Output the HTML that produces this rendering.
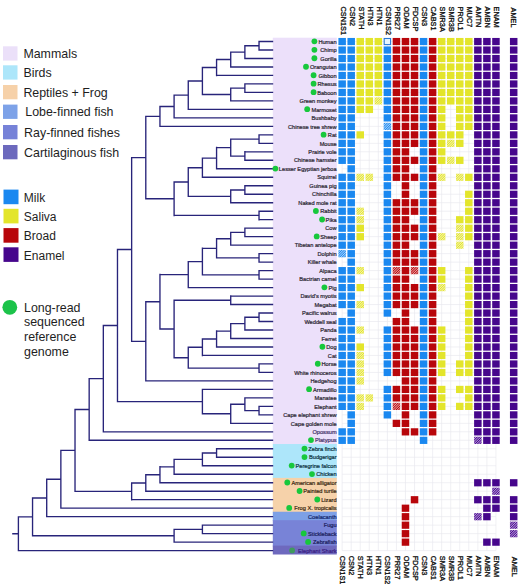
<!DOCTYPE html>
<html><head><meta charset="utf-8"><title>Figure</title><style>
html,body{margin:0;padding:0;background:#fff;width:520px;height:587px;overflow:hidden;}
svg{display:block;font-family:"Liberation Sans",sans-serif;}
.sp{font-size:5.65px;text-anchor:end;stroke-width:0.22px;}
.gl{font-size:7.35px;fill:#111;stroke:#111;stroke-width:0.3px;}
.lg{font-size:12.4px;fill:#1e1e1e;}
</style></head><body>
<svg width="520" height="587" viewBox="0 0 520 587">
<defs>
<pattern id="hB" patternUnits="userSpaceOnUse" width="1.7" height="1.7" patternTransform="rotate(45)"><rect width="1.7" height="1.7" fill="#a8d2fa"/><rect width="0.85" height="1.7" fill="#1a88f0"/></pattern>
<pattern id="hY" patternUnits="userSpaceOnUse" width="1.7" height="1.7" patternTransform="rotate(45)"><rect width="1.7" height="1.7" fill="#f4f3b0"/><rect width="0.85" height="1.7" fill="#e3e52b"/></pattern>
<pattern id="hR" patternUnits="userSpaceOnUse" width="1.7" height="1.7" patternTransform="rotate(45)"><rect width="1.7" height="1.7" fill="#e8a0a2"/><rect width="0.85" height="1.7" fill="#b8060b"/></pattern>
<pattern id="hP" patternUnits="userSpaceOnUse" width="1.7" height="1.7" patternTransform="rotate(45)"><rect width="1.7" height="1.7" fill="#b89ad8"/><rect width="0.85" height="1.7" fill="#46068c"/></pattern>
</defs>
<rect x="3" y="46.3" width="14.5" height="14.3" fill="#ebe0f9"/>
<text class="lg" x="23.4" y="58.1">Mammals</text>
<rect x="3" y="65.3" width="14.5" height="14.3" fill="#ade6fa"/>
<text class="lg" x="23.4" y="77.1">Birds</text>
<rect x="3" y="85" width="14.5" height="14.3" fill="#f6d1a9"/>
<text class="lg" x="23.4" y="96.8">Reptiles + Frog</text>
<rect x="3" y="104.6" width="14.5" height="14.3" fill="#7da2e8"/>
<text class="lg" x="25.3" y="116.4">Lobe-finned fish</text>
<rect x="3" y="125" width="14.5" height="14.3" fill="#7682d8"/>
<text class="lg" x="24.1" y="136.8">Ray-finned fishes</text>
<rect x="3" y="145" width="14.5" height="14.3" fill="#6c69bd"/>
<text class="lg" x="24.1" y="156.8">Cartilaginous fish</text>
<rect x="3.5" y="189.6" width="15" height="14.6" fill="#1a88f0"/>
<text class="lg" x="23.8" y="201.8" style="font-size:12px">Milk</text>
<rect x="3.5" y="208.8" width="15" height="14.6" fill="#e3e52b"/>
<text class="lg" x="23.8" y="221" style="font-size:12px">Saliva</text>
<rect x="3.5" y="228.1" width="15" height="14.6" fill="#b8060b"/>
<text class="lg" x="23.8" y="240.3" style="font-size:12px">Broad</text>
<rect x="3.5" y="247.3" width="15" height="14.6" fill="#46068c"/>
<text class="lg" x="23.8" y="259.5" style="font-size:12px">Enamel</text>
<circle cx="9.8" cy="307.3" r="7.4" fill="#1cc34a"/>
<text class="lg" x="24" y="311.6">Long-read</text>
<text class="lg" x="24" y="326.4">sequenced</text>
<text class="lg" x="24" y="341.2">reference</text>
<text class="lg" x="24" y="356">genome</text>
<rect x="272.8" y="37.7" width="64.0" height="407.12" fill="#ece0fa"/>
<rect x="272.8" y="444.02" width="64.0" height="34.66" fill="#ade6fa"/>
<rect x="272.8" y="477.88" width="64.0" height="34.66" fill="#f6d2aa"/>
<rect x="272.8" y="511.74" width="64.0" height="9.27" fill="#7da0e6"/>
<rect x="272.8" y="520.21" width="64.0" height="26.19" fill="#7883d7"/>
<rect x="272.8" y="545.6" width="64.0" height="8.9" fill="#6e69be"/>
<path d="M259.03 41.5H273.19M259.03 49.98H273.19M259.03 40.8V50.69M244.88 45.74H259.03M244.88 58.47H273.19M244.88 45.04V59.17M230.72 52.11H244.88M230.72 66.95H273.19M230.72 51.41V67.66M216.57 59.53H230.72M216.57 75.44H273.19M216.57 58.83V76.14M244.88 83.92H273.19M244.88 92.41H273.19M244.88 83.22V93.11M230.72 88.17H244.88M230.72 100.89H273.19M230.72 87.47V101.59M202.41 67.49H216.57M202.41 94.53H230.72M202.41 66.79V95.23M188.26 81.01H202.41M188.26 109.38H273.19M188.26 80.31V110.08M174.1 95.19H188.26M174.1 117.86H273.19M174.1 94.49V118.56M159.95 106.53H174.1M159.95 126.35H273.19M159.95 105.83V127.05M259.03 134.83H273.19M259.03 143.32H273.19M259.03 134.13V144.02M244.88 151.81H273.19M244.88 160.29H273.19M244.88 151.11V160.99M230.72 139.08H259.03M230.72 156.05H244.88M230.72 138.38V156.75M216.57 147.56H230.72M216.57 168.77H273.19M216.57 146.86V169.47M202.41 158.17H216.57M202.41 177.26H273.19M202.41 157.47V177.96M244.88 185.75H273.19M244.88 194.23H273.19M244.88 185.05V194.93M230.72 189.99H244.88M230.72 202.71H273.19M230.72 189.29V203.41M188.26 167.71H202.41M188.26 196.35H230.72M188.26 167.01V197.05M259.03 211.2H273.19M259.03 219.69H273.19M259.03 210.5V220.38M174.1 182.03H188.26M174.1 215.44H259.03M174.1 181.33V216.14M145.79 116.44H159.95M145.79 198.74H174.1M145.79 115.74V199.44M244.88 228.17H273.19M244.88 236.65H273.19M244.88 227.47V237.35M230.72 232.41H244.88M230.72 245.14H273.19M230.72 231.71V245.84M259.03 253.62H273.19M259.03 262.11H273.19M259.03 252.93V262.81M216.57 238.78H230.72M216.57 257.87H259.03M216.57 238.08V258.57M259.03 270.59H273.19M259.03 279.08H273.19M259.03 269.89V279.78M202.41 248.32H216.57M202.41 274.84H259.03M202.41 247.62V275.54M188.26 261.58H202.41M188.26 287.56H273.19M188.26 260.88V288.26M230.72 296.05H273.19M230.72 304.53H273.19M230.72 295.35V305.23M259.03 313.02H273.19M259.03 321.5H273.19M259.03 312.32V322.2M244.88 317.26H259.03M244.88 329.99H273.19M244.88 316.56V330.69M230.72 323.63H244.88M230.72 338.47H273.19M230.72 322.93V339.17M216.57 331.05H230.72M216.57 346.96H273.19M216.57 330.35V347.66M202.41 339.01H216.57M202.41 355.44H273.19M202.41 338.31V356.14M259.03 363.93H273.19M259.03 372.41H273.19M259.03 363.23V373.11M188.26 347.23H202.41M188.26 368.17H259.03M188.26 346.53V368.87M174.1 300.29H230.72M174.1 357.7H188.26M174.1 299.59V358.4M159.95 274.57H188.26M159.95 329H174.1M159.95 273.87V329.7M145.79 301.78H159.95M145.79 380.9H273.19M145.79 301.08V381.6M131.64 157.59H145.79M131.64 341.34H145.79M131.64 156.89V342.04M259.03 406.35H273.19M259.03 414.84H273.19M259.03 405.65V415.54M244.88 397.87H273.19M244.88 410.6H259.03M244.88 397.17V411.3M230.72 404.23H244.88M230.72 423.32H273.19M230.72 403.53V424.02M202.41 389.38H273.19M202.41 413.78H230.72M202.41 388.69V414.48M117.48 249.47H131.64M117.48 401.58H202.41M117.48 248.77V402.28M103.33 325.52H117.48M103.33 431.81H273.19M103.33 324.82V432.51M89.17 378.67H103.33M89.17 440.29H273.19M89.17 377.97V440.99M216.57 448.78H273.19M216.57 457.26H273.19M216.57 448.08V457.96M202.41 453.02H216.57M202.41 465.75H273.19M202.41 452.32V466.45M174.1 459.39H202.41M174.1 474.23H273.19M174.1 458.69V474.93M159.95 466.81H174.1M159.95 482.72H273.19M159.95 466.11V483.42M145.79 474.77H159.95M145.79 491.2H273.19M145.79 474.07V491.9M131.64 482.99H145.79M131.64 499.69H273.19M131.64 482.29V500.39M75.02 409.48H89.17M75.02 491.34H131.64M75.02 408.78V492.04M60.86 450.41H75.02M60.86 508.17H273.19M60.86 449.71V508.87M46.71 479.29H60.86M46.71 516.66H273.19M46.71 478.59V517.36M202.41 525.14H273.19M202.41 533.63H273.19M202.41 524.44V534.33M174.1 529.39H202.41M174.1 542.12H273.19M174.1 528.69V542.82M32.55 497.98H46.71M32.55 535.75H174.1M32.55 497.28V536.45M18.4 516.86H32.55M18.4 550.6H273.19M18.4 516.16V551.3M12.2 533.73H18.4" fill="none" stroke="#28247a" stroke-width="1.35" stroke-linecap="butt"/>
<text class="sp" transform="translate(336.6,43.7) scale(1,1.08)" fill="#2c2834" stroke="#2c2834">Human</text>
<circle cx="314.4" cy="41.3" r="2.9" fill="#17c83c"/>
<text class="sp" transform="translate(336.6,52.19) scale(1,1.08)" fill="#2c2834" stroke="#2c2834">Chimp</text>
<circle cx="314.4" cy="49.78" r="2.9" fill="#17c83c"/>
<text class="sp" transform="translate(336.6,60.67) scale(1,1.08)" fill="#2c2834" stroke="#2c2834">Gorilla</text>
<circle cx="314.4" cy="58.27" r="2.9" fill="#17c83c"/>
<text class="sp" transform="translate(336.6,69.16) scale(1,1.08)" fill="#2c2834" stroke="#2c2834">Orangutan</text>
<circle cx="306" cy="66.75" r="2.9" fill="#17c83c"/>
<text class="sp" transform="translate(336.6,77.64) scale(1,1.08)" fill="#2c2834" stroke="#2c2834">Gibbon</text>
<circle cx="313.6" cy="75.24" r="2.9" fill="#17c83c"/>
<text class="sp" transform="translate(336.6,86.12) scale(1,1.08)" fill="#2c2834" stroke="#2c2834">Rhesus</text>
<circle cx="313.6" cy="83.72" r="2.9" fill="#17c83c"/>
<text class="sp" transform="translate(336.6,94.61) scale(1,1.08)" fill="#2c2834" stroke="#2c2834">Baboon</text>
<circle cx="313.6" cy="92.21" r="2.9" fill="#17c83c"/>
<text class="sp" transform="translate(336.6,103.09) scale(1,1.08)" fill="#2c2834" stroke="#2c2834">Green monkey</text>
<text class="sp" transform="translate(336.6,111.58) scale(1,1.08)" fill="#2c2834" stroke="#2c2834">Marmoset</text>
<circle cx="307.2" cy="109.18" r="2.9" fill="#17c83c"/>
<text class="sp" transform="translate(336.6,120.06) scale(1,1.08)" fill="#2c2834" stroke="#2c2834">Bushbaby</text>
<text class="sp" transform="translate(336.6,128.55) scale(1,1.08)" fill="#2c2834" stroke="#2c2834">Chinese tree shrew</text>
<text class="sp" transform="translate(336.6,137.03) scale(1,1.08)" fill="#2c2834" stroke="#2c2834">Rat</text>
<circle cx="323.6" cy="134.63" r="2.9" fill="#17c83c"/>
<text class="sp" transform="translate(336.6,145.52) scale(1,1.08)" fill="#2c2834" stroke="#2c2834">Mouse</text>
<text class="sp" transform="translate(336.6,154) scale(1,1.08)" fill="#2c2834" stroke="#2c2834">Prairie vole</text>
<text class="sp" transform="translate(336.6,162.49) scale(1,1.08)" fill="#2c2834" stroke="#2c2834">Chinese hamster</text>
<text class="sp" transform="translate(336.6,170.97) scale(1,1.08)" fill="#2c2834" stroke="#2c2834">Lesser Egyptian jerboa</text>
<circle cx="275.4" cy="168.57" r="2.9" fill="#17c83c"/>
<text class="sp" transform="translate(336.6,179.46) scale(1,1.08)" fill="#2c2834" stroke="#2c2834">Squirrel</text>
<text class="sp" transform="translate(336.6,187.94) scale(1,1.08)" fill="#2c2834" stroke="#2c2834">Guinea pig</text>
<text class="sp" transform="translate(336.6,196.43) scale(1,1.08)" fill="#2c2834" stroke="#2c2834">Chinchilla</text>
<text class="sp" transform="translate(336.6,204.91) scale(1,1.08)" fill="#2c2834" stroke="#2c2834">Naked mole rat</text>
<text class="sp" transform="translate(336.6,213.4) scale(1,1.08)" fill="#2c2834" stroke="#2c2834">Rabbit</text>
<circle cx="315.9" cy="211" r="2.9" fill="#17c83c"/>
<text class="sp" transform="translate(336.6,221.88) scale(1,1.08)" fill="#2c2834" stroke="#2c2834">Pika</text>
<circle cx="322.1" cy="219.49" r="2.9" fill="#17c83c"/>
<text class="sp" transform="translate(336.6,230.37) scale(1,1.08)" fill="#2c2834" stroke="#2c2834">Cow</text>
<text class="sp" transform="translate(336.6,238.85) scale(1,1.08)" fill="#2c2834" stroke="#2c2834">Sheep</text>
<circle cx="316.7" cy="236.45" r="2.9" fill="#17c83c"/>
<text class="sp" transform="translate(336.6,247.34) scale(1,1.08)" fill="#2c2834" stroke="#2c2834">Tibetan antelope</text>
<text class="sp" transform="translate(336.6,255.82) scale(1,1.08)" fill="#2c2834" stroke="#2c2834">Dolphin</text>
<text class="sp" transform="translate(336.6,264.31) scale(1,1.08)" fill="#2c2834" stroke="#2c2834">Killer whale</text>
<text class="sp" transform="translate(336.6,272.79) scale(1,1.08)" fill="#2c2834" stroke="#2c2834">Alpaca</text>
<text class="sp" transform="translate(336.6,281.28) scale(1,1.08)" fill="#2c2834" stroke="#2c2834">Bactrian camel</text>
<text class="sp" transform="translate(336.6,289.76) scale(1,1.08)" fill="#2c2834" stroke="#2c2834">Pig</text>
<circle cx="324.4" cy="287.37" r="2.9" fill="#17c83c"/>
<text class="sp" transform="translate(336.6,298.25) scale(1,1.08)" fill="#2c2834" stroke="#2c2834">David&#39;s myotis</text>
<text class="sp" transform="translate(336.6,306.73) scale(1,1.08)" fill="#2c2834" stroke="#2c2834">Megabat</text>
<text class="sp" transform="translate(336.6,315.22) scale(1,1.08)" fill="#2c2834" stroke="#2c2834">Pacific walrus</text>
<text class="sp" transform="translate(336.6,323.7) scale(1,1.08)" fill="#2c2834" stroke="#2c2834">Weddell seal</text>
<text class="sp" transform="translate(336.6,332.19) scale(1,1.08)" fill="#2c2834" stroke="#2c2834">Panda</text>
<text class="sp" transform="translate(336.6,340.67) scale(1,1.08)" fill="#2c2834" stroke="#2c2834">Ferret</text>
<text class="sp" transform="translate(336.6,349.16) scale(1,1.08)" fill="#2c2834" stroke="#2c2834">Dog</text>
<circle cx="322.4" cy="346.76" r="2.9" fill="#17c83c"/>
<text class="sp" transform="translate(336.6,357.64) scale(1,1.08)" fill="#2c2834" stroke="#2c2834">Cat</text>
<text class="sp" transform="translate(336.6,366.13) scale(1,1.08)" fill="#2c2834" stroke="#2c2834">Horse</text>
<circle cx="317.8" cy="363.73" r="2.9" fill="#17c83c"/>
<text class="sp" transform="translate(336.6,374.61) scale(1,1.08)" fill="#2c2834" stroke="#2c2834">White rhinoceros</text>
<text class="sp" transform="translate(336.6,383.1) scale(1,1.08)" fill="#2c2834" stroke="#2c2834">Hedgehog</text>
<text class="sp" transform="translate(336.6,391.58) scale(1,1.08)" fill="#2c2834" stroke="#2c2834">Armadillo</text>
<circle cx="309.1" cy="389.19" r="2.9" fill="#17c83c"/>
<text class="sp" transform="translate(336.6,400.07) scale(1,1.08)" fill="#2c2834" stroke="#2c2834">Manatee</text>
<text class="sp" transform="translate(336.6,408.55) scale(1,1.08)" fill="#2c2834" stroke="#2c2834">Elephant</text>
<text class="sp" transform="translate(336.6,417.04) scale(1,1.08)" fill="#2c2834" stroke="#2c2834">Cape elephant shrew</text>
<text class="sp" transform="translate(336.6,425.52) scale(1,1.08)" fill="#2c2834" stroke="#2c2834">Cape golden mole</text>
<text class="sp" transform="translate(336.6,434.01) scale(1,1.08)" fill="#47346a" stroke="#47346a">Opossum</text>
<text class="sp" transform="translate(336.6,442.49) scale(1,1.08)" fill="#47346a" stroke="#47346a">Platypus</text>
<circle cx="311" cy="440.09" r="2.9" fill="#17c83c"/>
<text class="sp" transform="translate(336.6,450.98) scale(1,1.08)" fill="#0f3545" stroke="#0f3545">Zebra finch</text>
<circle cx="304.5" cy="448.58" r="2.9" fill="#17c83c"/>
<text class="sp" transform="translate(336.6,459.46) scale(1,1.08)" fill="#0f3545" stroke="#0f3545">Budgerigar</text>
<circle cx="304.5" cy="457.06" r="2.9" fill="#17c83c"/>
<text class="sp" transform="translate(336.6,467.95) scale(1,1.08)" fill="#0f3545" stroke="#0f3545">Peregrine falcon</text>
<circle cx="291.7" cy="465.55" r="2.9" fill="#17c83c"/>
<text class="sp" transform="translate(336.6,476.43) scale(1,1.08)" fill="#0f3545" stroke="#0f3545">Chicken</text>
<circle cx="312" cy="474.03" r="2.9" fill="#17c83c"/>
<text class="sp" transform="translate(336.6,484.92) scale(1,1.08)" fill="#3d2b14" stroke="#3d2b14">American alligator</text>
<circle cx="287.3" cy="482.52" r="2.9" fill="#17c83c"/>
<text class="sp" transform="translate(336.6,493.4) scale(1,1.08)" fill="#3d2b14" stroke="#3d2b14">Painted turtle</text>
<circle cx="299.6" cy="491" r="2.9" fill="#17c83c"/>
<text class="sp" transform="translate(336.6,501.89) scale(1,1.08)" fill="#3d2b14" stroke="#3d2b14">Lizard</text>
<circle cx="317.3" cy="499.49" r="2.9" fill="#17c83c"/>
<text class="sp" transform="translate(336.6,510.37) scale(1,1.08)" fill="#3d2b14" stroke="#3d2b14">Frog X. tropicalis</text>
<circle cx="289.2" cy="507.97" r="2.9" fill="#17c83c"/>
<text class="sp" transform="translate(336.6,518.86) scale(1,1.08)" fill="#14286e" stroke="#14286e">Coelacanth</text>
<text class="sp" transform="translate(336.6,527.35) scale(1,1.08)" fill="#1c1f5e" stroke="#1c1f5e">Fugu</text>
<text class="sp" transform="translate(336.6,535.83) scale(1,1.08)" fill="#1c1f5e" stroke="#1c1f5e">Stickleback</text>
<circle cx="303.7" cy="533.43" r="2.9" fill="#17c83c"/>
<text class="sp" transform="translate(336.6,544.32) scale(1,1.08)" fill="#1c1f5e" stroke="#1c1f5e">Zebrafish</text>
<circle cx="308.1" cy="541.91" r="2.9" fill="#17c83c"/>
<text class="sp" transform="translate(336.6,552.8) scale(1,1.08)" fill="#3a2084" stroke="#3a2084">Elephant Shark</text>
<circle cx="292.1" cy="550.4" r="2.9" fill="#3f9a5e"/>
<path d="M342.15 41.5H495.95M342.15 49.98H495.95M342.15 58.47H495.95M342.15 66.95H495.95M342.15 75.44H495.95M342.15 83.92H495.95M342.15 92.41H495.95M342.15 100.89H495.95M342.15 109.38H495.95M342.15 117.86H495.95M342.15 126.35H495.95M342.15 134.83H495.95M342.15 143.32H495.95M342.15 151.81H495.95M342.15 160.29H495.95M342.15 168.77H495.95M342.15 177.26H495.95M342.15 185.75H495.95M342.15 194.23H495.95M342.15 202.71H495.95M342.15 211.2H495.95M342.15 219.69H495.95M342.15 228.17H495.95M342.15 236.65H495.95M342.15 245.14H495.95M342.15 253.62H495.95M342.15 262.11H495.95M342.15 270.59H495.95M342.15 279.08H495.95M342.15 287.56H495.95M342.15 296.05H495.95M342.15 304.53H495.95M342.15 313.02H495.95M342.15 321.5H495.95M342.15 329.99H495.95M342.15 338.47H495.95M342.15 346.96H495.95M342.15 355.44H495.95M342.15 363.93H495.95M342.15 372.41H495.95M342.15 380.9H495.95M342.15 389.38H495.95M342.15 397.87H495.95M342.15 406.35H495.95M342.15 414.84H495.95M342.15 423.32H495.95M342.15 431.81H495.95M342.15 440.29H495.95M342.15 448.78H495.95M342.15 457.26H495.95M342.15 465.75H495.95M342.15 474.23H495.95M342.15 482.72H495.95M342.15 491.2H495.95M342.15 499.69H495.95M342.15 508.17H495.95M342.15 516.66H495.95M342.15 525.14H495.95M342.15 533.63H495.95M342.15 542.12H495.95M342.15 550.6H495.95M342.15 41.5V550.6M351.2 41.5V550.6M360.24 41.5V550.6M369.29 41.5V550.6M378.34 41.5V550.6M387.38 41.5V550.6M396.43 41.5V550.6M405.48 41.5V550.6M414.53 41.5V550.6M423.57 41.5V550.6M432.62 41.5V550.6M441.67 41.5V550.6M450.71 41.5V550.6M459.76 41.5V550.6M468.81 41.5V550.6M477.86 41.5V550.6M486.9 41.5V550.6M495.95 41.5V550.6" stroke="#e8e8ee" stroke-width="0.65" fill="none"/>
<rect x="338.4" y="37.95" width="7.5" height="7.2" fill="#1a88f0"/>
<rect x="347.45" y="37.95" width="7.5" height="7.2" fill="#1a88f0"/>
<rect x="356.49" y="37.95" width="7.5" height="7.2" fill="#e3e52b"/>
<rect x="365.54" y="37.95" width="7.5" height="7.2" fill="#e3e52b"/>
<rect x="374.59" y="37.95" width="7.5" height="7.2" fill="#e3e52b"/>
<rect x="384.19" y="38.5" width="6.4" height="6.1" fill="#e6f6ff" stroke="#2a7ad6" stroke-width="1.1"/>
<rect x="392.68" y="37.95" width="7.5" height="7.2" fill="#b8060b"/>
<rect x="401.73" y="37.95" width="7.5" height="7.2" fill="#b8060b"/>
<rect x="410.78" y="37.95" width="7.5" height="7.2" fill="#b8060b"/>
<rect x="419.82" y="37.95" width="7.5" height="7.2" fill="#1a88f0"/>
<rect x="428.87" y="37.95" width="7.5" height="7.2" fill="#b8060b"/>
<rect x="437.92" y="37.95" width="7.5" height="7.2" fill="#e3e52b"/>
<rect x="446.96" y="37.95" width="7.5" height="7.2" fill="#e3e52b"/>
<rect x="456.01" y="37.95" width="7.5" height="7.2" fill="#e3e52b"/>
<rect x="465.06" y="37.95" width="7.5" height="7.2" fill="#e3e52b"/>
<rect x="474.11" y="37.95" width="7.5" height="7.2" fill="#46068c"/>
<rect x="483.15" y="37.95" width="7.5" height="7.2" fill="#46068c"/>
<rect x="492.2" y="37.95" width="7.5" height="7.2" fill="#46068c"/>
<rect x="509.95" y="37.95" width="7.5" height="7.2" fill="#46068c"/>
<rect x="338.4" y="46.43" width="7.5" height="7.2" fill="#1a88f0"/>
<rect x="347.45" y="46.43" width="7.5" height="7.2" fill="#1a88f0"/>
<rect x="356.49" y="46.43" width="7.5" height="7.2" fill="#e3e52b"/>
<rect x="365.54" y="46.43" width="7.5" height="7.2" fill="#e3e52b"/>
<rect x="374.59" y="46.43" width="7.5" height="7.2" fill="#e3e52b"/>
<rect x="383.63" y="46.43" width="7.5" height="7.2" fill="#1a88f0"/>
<rect x="392.68" y="46.43" width="7.5" height="7.2" fill="#b8060b"/>
<rect x="401.73" y="46.43" width="7.5" height="7.2" fill="#b8060b"/>
<rect x="410.78" y="46.43" width="7.5" height="7.2" fill="#b8060b"/>
<rect x="419.82" y="46.43" width="7.5" height="7.2" fill="#1a88f0"/>
<rect x="428.87" y="46.43" width="7.5" height="7.2" fill="#b8060b"/>
<rect x="437.92" y="46.43" width="7.5" height="7.2" fill="#e3e52b"/>
<rect x="446.96" y="46.43" width="7.5" height="7.2" fill="#e3e52b"/>
<rect x="456.01" y="46.43" width="7.5" height="7.2" fill="#e3e52b"/>
<rect x="465.06" y="46.43" width="7.5" height="7.2" fill="#e3e52b"/>
<rect x="474.11" y="46.43" width="7.5" height="7.2" fill="#46068c"/>
<rect x="483.15" y="46.43" width="7.5" height="7.2" fill="#46068c"/>
<rect x="492.2" y="46.43" width="7.5" height="7.2" fill="#46068c"/>
<rect x="509.95" y="46.43" width="7.5" height="7.2" fill="#46068c"/>
<rect x="338.4" y="54.92" width="7.5" height="7.2" fill="#1a88f0"/>
<rect x="347.45" y="54.92" width="7.5" height="7.2" fill="#1a88f0"/>
<rect x="356.49" y="54.92" width="7.5" height="7.2" fill="#e3e52b"/>
<rect x="365.54" y="54.92" width="7.5" height="7.2" fill="#e3e52b"/>
<rect x="374.59" y="54.92" width="7.5" height="7.2" fill="#e3e52b"/>
<rect x="383.63" y="54.92" width="7.5" height="7.2" fill="#1a88f0"/>
<rect x="392.68" y="54.92" width="7.5" height="7.2" fill="#b8060b"/>
<rect x="401.73" y="54.92" width="7.5" height="7.2" fill="#b8060b"/>
<rect x="410.78" y="54.92" width="7.5" height="7.2" fill="#b8060b"/>
<rect x="419.82" y="54.92" width="7.5" height="7.2" fill="#1a88f0"/>
<rect x="428.87" y="54.92" width="7.5" height="7.2" fill="#b8060b"/>
<rect x="437.92" y="54.92" width="7.5" height="7.2" fill="#e3e52b"/>
<rect x="446.96" y="54.92" width="7.5" height="7.2" fill="#e3e52b"/>
<rect x="456.01" y="54.92" width="7.5" height="7.2" fill="#e3e52b"/>
<rect x="465.06" y="54.92" width="7.5" height="7.2" fill="#e3e52b"/>
<rect x="474.11" y="54.92" width="7.5" height="7.2" fill="#46068c"/>
<rect x="483.15" y="54.92" width="7.5" height="7.2" fill="#46068c"/>
<rect x="492.2" y="54.92" width="7.5" height="7.2" fill="#46068c"/>
<rect x="509.95" y="54.92" width="7.5" height="7.2" fill="#46068c"/>
<rect x="338.4" y="63.4" width="7.5" height="7.2" fill="#1a88f0"/>
<rect x="347.45" y="63.4" width="7.5" height="7.2" fill="#1a88f0"/>
<rect x="356.49" y="63.4" width="7.5" height="7.2" fill="#e3e52b"/>
<rect x="365.54" y="63.4" width="7.5" height="7.2" fill="#e3e52b"/>
<rect x="374.59" y="63.4" width="7.5" height="7.2" fill="#e3e52b"/>
<rect x="383.63" y="63.4" width="7.5" height="7.2" fill="#1a88f0"/>
<rect x="392.68" y="63.4" width="7.5" height="7.2" fill="#b8060b"/>
<rect x="401.73" y="63.4" width="7.5" height="7.2" fill="#b8060b"/>
<rect x="410.78" y="63.4" width="7.5" height="7.2" fill="#b8060b"/>
<rect x="419.82" y="63.4" width="7.5" height="7.2" fill="#1a88f0"/>
<rect x="428.87" y="63.4" width="7.5" height="7.2" fill="#b8060b"/>
<rect x="437.92" y="63.4" width="7.5" height="7.2" fill="#e3e52b"/>
<rect x="446.96" y="63.4" width="7.5" height="7.2" fill="#e3e52b"/>
<rect x="456.01" y="63.4" width="7.5" height="7.2" fill="#e3e52b"/>
<rect x="465.06" y="63.4" width="7.5" height="7.2" fill="#e3e52b"/>
<rect x="474.11" y="63.4" width="7.5" height="7.2" fill="#46068c"/>
<rect x="483.15" y="63.4" width="7.5" height="7.2" fill="#46068c"/>
<rect x="492.2" y="63.4" width="7.5" height="7.2" fill="#46068c"/>
<rect x="509.95" y="63.4" width="7.5" height="7.2" fill="#46068c"/>
<rect x="338.4" y="71.89" width="7.5" height="7.2" fill="#1a88f0"/>
<rect x="347.45" y="71.89" width="7.5" height="7.2" fill="#1a88f0"/>
<rect x="356.49" y="71.89" width="7.5" height="7.2" fill="#e3e52b"/>
<rect x="365.54" y="71.89" width="7.5" height="7.2" fill="#e3e52b"/>
<rect x="374.59" y="71.89" width="7.5" height="7.2" fill="#e3e52b"/>
<rect x="383.63" y="71.89" width="7.5" height="7.2" fill="#1a88f0"/>
<rect x="392.68" y="71.89" width="7.5" height="7.2" fill="#b8060b"/>
<rect x="401.73" y="71.89" width="7.5" height="7.2" fill="#b8060b"/>
<rect x="410.78" y="71.89" width="7.5" height="7.2" fill="#b8060b"/>
<rect x="419.82" y="71.89" width="7.5" height="7.2" fill="#1a88f0"/>
<rect x="428.87" y="71.89" width="7.5" height="7.2" fill="#b8060b"/>
<rect x="437.92" y="71.89" width="7.5" height="7.2" fill="#e3e52b"/>
<rect x="446.96" y="71.89" width="7.5" height="7.2" fill="#e3e52b"/>
<rect x="456.01" y="71.89" width="7.5" height="7.2" fill="#e3e52b"/>
<rect x="465.06" y="71.89" width="7.5" height="7.2" fill="#e3e52b"/>
<rect x="474.11" y="71.89" width="7.5" height="7.2" fill="#46068c"/>
<rect x="483.15" y="71.89" width="7.5" height="7.2" fill="#46068c"/>
<rect x="492.2" y="71.89" width="7.5" height="7.2" fill="#46068c"/>
<rect x="509.95" y="71.89" width="7.5" height="7.2" fill="#46068c"/>
<rect x="338.4" y="80.37" width="7.5" height="7.2" fill="#1a88f0"/>
<rect x="347.45" y="80.37" width="7.5" height="7.2" fill="#1a88f0"/>
<rect x="356.49" y="80.37" width="7.5" height="7.2" fill="#e3e52b"/>
<rect x="365.54" y="80.37" width="7.5" height="7.2" fill="#e3e52b"/>
<rect x="374.59" y="80.37" width="7.5" height="7.2" fill="#e3e52b"/>
<rect x="383.63" y="80.37" width="7.5" height="7.2" fill="#1a88f0"/>
<rect x="392.68" y="80.37" width="7.5" height="7.2" fill="#b8060b"/>
<rect x="401.73" y="80.37" width="7.5" height="7.2" fill="#b8060b"/>
<rect x="410.78" y="80.37" width="7.5" height="7.2" fill="#b8060b"/>
<rect x="419.82" y="80.37" width="7.5" height="7.2" fill="#1a88f0"/>
<rect x="428.87" y="80.37" width="7.5" height="7.2" fill="#b8060b"/>
<rect x="437.92" y="80.37" width="7.5" height="7.2" fill="#e3e52b"/>
<rect x="446.96" y="80.37" width="7.5" height="7.2" fill="#e3e52b"/>
<rect x="456.01" y="80.37" width="7.5" height="7.2" fill="#e3e52b"/>
<rect x="465.06" y="80.37" width="7.5" height="7.2" fill="#e3e52b"/>
<rect x="474.11" y="80.37" width="7.5" height="7.2" fill="#46068c"/>
<rect x="483.15" y="80.37" width="7.5" height="7.2" fill="#46068c"/>
<rect x="492.2" y="80.37" width="7.5" height="7.2" fill="#46068c"/>
<rect x="509.95" y="80.37" width="7.5" height="7.2" fill="#46068c"/>
<rect x="338.4" y="88.86" width="7.5" height="7.2" fill="#1a88f0"/>
<rect x="347.45" y="88.86" width="7.5" height="7.2" fill="#1a88f0"/>
<rect x="356.49" y="88.86" width="7.5" height="7.2" fill="#e3e52b"/>
<rect x="365.54" y="88.86" width="7.5" height="7.2" fill="#e3e52b"/>
<rect x="374.59" y="88.86" width="7.5" height="7.2" fill="#e3e52b"/>
<rect x="383.63" y="88.86" width="7.5" height="7.2" fill="#1a88f0"/>
<rect x="392.68" y="88.86" width="7.5" height="7.2" fill="#b8060b"/>
<rect x="401.73" y="88.86" width="7.5" height="7.2" fill="#b8060b"/>
<rect x="410.78" y="88.86" width="7.5" height="7.2" fill="#b8060b"/>
<rect x="419.82" y="88.86" width="7.5" height="7.2" fill="#1a88f0"/>
<rect x="428.87" y="88.86" width="7.5" height="7.2" fill="#b8060b"/>
<rect x="437.92" y="88.86" width="7.5" height="7.2" fill="#e3e52b"/>
<rect x="446.96" y="88.86" width="7.5" height="7.2" fill="#e3e52b"/>
<rect x="456.01" y="88.86" width="7.5" height="7.2" fill="#e3e52b"/>
<rect x="465.06" y="88.86" width="7.5" height="7.2" fill="#e3e52b"/>
<rect x="474.11" y="88.86" width="7.5" height="7.2" fill="#46068c"/>
<rect x="483.15" y="88.86" width="7.5" height="7.2" fill="#46068c"/>
<rect x="492.2" y="88.86" width="7.5" height="7.2" fill="#46068c"/>
<rect x="509.95" y="88.86" width="7.5" height="7.2" fill="#46068c"/>
<rect x="338.4" y="97.34" width="7.5" height="7.2" fill="#1a88f0"/>
<rect x="347.45" y="97.34" width="7.5" height="7.2" fill="#1a88f0"/>
<rect x="356.49" y="97.34" width="7.5" height="7.2" fill="#e3e52b"/>
<rect x="365.54" y="97.34" width="7.5" height="7.2" fill="#e3e52b"/>
<rect x="374.59" y="97.34" width="7.5" height="7.2" fill="url(#hY)"/>
<rect x="383.63" y="97.34" width="7.5" height="7.2" fill="#1a88f0"/>
<rect x="392.68" y="97.34" width="7.5" height="7.2" fill="#b8060b"/>
<rect x="401.73" y="97.34" width="7.5" height="7.2" fill="#b8060b"/>
<rect x="410.78" y="97.34" width="7.5" height="7.2" fill="#b8060b"/>
<rect x="419.82" y="97.34" width="7.5" height="7.2" fill="#1a88f0"/>
<rect x="428.87" y="97.34" width="7.5" height="7.2" fill="#b8060b"/>
<rect x="437.92" y="97.34" width="7.5" height="7.2" fill="#e3e52b"/>
<rect x="446.96" y="97.34" width="7.5" height="7.2" fill="#e3e52b"/>
<rect x="456.01" y="97.34" width="7.5" height="7.2" fill="#e3e52b"/>
<rect x="465.06" y="97.34" width="7.5" height="7.2" fill="#e3e52b"/>
<rect x="474.11" y="97.34" width="7.5" height="7.2" fill="#46068c"/>
<rect x="483.15" y="97.34" width="7.5" height="7.2" fill="#46068c"/>
<rect x="492.2" y="97.34" width="7.5" height="7.2" fill="#46068c"/>
<rect x="509.95" y="97.34" width="7.5" height="7.2" fill="#46068c"/>
<rect x="338.4" y="105.83" width="7.5" height="7.2" fill="#1a88f0"/>
<rect x="347.45" y="105.83" width="7.5" height="7.2" fill="#1a88f0"/>
<rect x="356.49" y="105.83" width="7.5" height="7.2" fill="#e3e52b"/>
<rect x="365.54" y="105.83" width="7.5" height="7.2" fill="#e3e52b"/>
<rect x="383.63" y="105.83" width="7.5" height="7.2" fill="#1a88f0"/>
<rect x="392.68" y="105.83" width="7.5" height="7.2" fill="#b8060b"/>
<rect x="401.73" y="105.83" width="7.5" height="7.2" fill="#b8060b"/>
<rect x="410.78" y="105.83" width="7.5" height="7.2" fill="#b8060b"/>
<rect x="419.82" y="105.83" width="7.5" height="7.2" fill="#1a88f0"/>
<rect x="428.87" y="105.83" width="7.5" height="7.2" fill="#b8060b"/>
<rect x="437.92" y="105.83" width="7.5" height="7.2" fill="#e3e52b"/>
<rect x="456.01" y="105.83" width="7.5" height="7.2" fill="#e3e52b"/>
<rect x="465.06" y="105.83" width="7.5" height="7.2" fill="#e3e52b"/>
<rect x="474.11" y="105.83" width="7.5" height="7.2" fill="#46068c"/>
<rect x="483.15" y="105.83" width="7.5" height="7.2" fill="#46068c"/>
<rect x="492.2" y="105.83" width="7.5" height="7.2" fill="#46068c"/>
<rect x="509.95" y="105.83" width="7.5" height="7.2" fill="#46068c"/>
<rect x="338.4" y="114.31" width="7.5" height="7.2" fill="#1a88f0"/>
<rect x="347.45" y="114.31" width="7.5" height="7.2" fill="#1a88f0"/>
<rect x="383.63" y="114.31" width="7.5" height="7.2" fill="#1a88f0"/>
<rect x="392.68" y="114.31" width="7.5" height="7.2" fill="#b8060b"/>
<rect x="401.73" y="114.31" width="7.5" height="7.2" fill="#b8060b"/>
<rect x="410.78" y="114.31" width="7.5" height="7.2" fill="#b8060b"/>
<rect x="419.82" y="114.31" width="7.5" height="7.2" fill="#1a88f0"/>
<rect x="428.87" y="114.31" width="7.5" height="7.2" fill="#b8060b"/>
<rect x="437.92" y="114.31" width="7.5" height="7.2" fill="#e3e52b"/>
<rect x="456.01" y="114.31" width="7.5" height="7.2" fill="#e3e52b"/>
<rect x="465.06" y="114.31" width="7.5" height="7.2" fill="#e3e52b"/>
<rect x="474.11" y="114.31" width="7.5" height="7.2" fill="#46068c"/>
<rect x="483.15" y="114.31" width="7.5" height="7.2" fill="#46068c"/>
<rect x="492.2" y="114.31" width="7.5" height="7.2" fill="#46068c"/>
<rect x="509.95" y="114.31" width="7.5" height="7.2" fill="#46068c"/>
<rect x="338.4" y="122.8" width="7.5" height="7.2" fill="#1a88f0"/>
<rect x="347.45" y="122.8" width="7.5" height="7.2" fill="#1a88f0"/>
<rect x="383.63" y="122.8" width="7.5" height="7.2" fill="url(#hB)"/>
<rect x="392.68" y="122.8" width="7.5" height="7.2" fill="#b8060b"/>
<rect x="401.73" y="122.8" width="7.5" height="7.2" fill="#b8060b"/>
<rect x="410.78" y="122.8" width="7.5" height="7.2" fill="#b8060b"/>
<rect x="419.82" y="122.8" width="7.5" height="7.2" fill="#1a88f0"/>
<rect x="428.87" y="122.8" width="7.5" height="7.2" fill="#b8060b"/>
<rect x="437.92" y="122.8" width="7.5" height="7.2" fill="#e3e52b"/>
<rect x="456.01" y="122.8" width="7.5" height="7.2" fill="#e3e52b"/>
<rect x="465.06" y="122.8" width="7.5" height="7.2" fill="#e3e52b"/>
<rect x="474.11" y="122.8" width="7.5" height="7.2" fill="#46068c"/>
<rect x="483.15" y="122.8" width="7.5" height="7.2" fill="#46068c"/>
<rect x="492.2" y="122.8" width="7.5" height="7.2" fill="#46068c"/>
<rect x="509.95" y="122.8" width="7.5" height="7.2" fill="#46068c"/>
<rect x="338.4" y="131.28" width="7.5" height="7.2" fill="#1a88f0"/>
<rect x="347.45" y="131.28" width="7.5" height="7.2" fill="#1a88f0"/>
<rect x="356.49" y="131.28" width="7.5" height="7.2" fill="#e3e52b"/>
<rect x="383.63" y="131.28" width="7.5" height="7.2" fill="#1a88f0"/>
<rect x="392.68" y="131.28" width="7.5" height="7.2" fill="#b8060b"/>
<rect x="401.73" y="131.28" width="7.5" height="7.2" fill="#b8060b"/>
<rect x="410.78" y="131.28" width="7.5" height="7.2" fill="#b8060b"/>
<rect x="419.82" y="131.28" width="7.5" height="7.2" fill="#1a88f0"/>
<rect x="428.87" y="131.28" width="7.5" height="7.2" fill="#b8060b"/>
<rect x="437.92" y="131.28" width="7.5" height="7.2" fill="#e3e52b"/>
<rect x="446.96" y="131.28" width="7.5" height="7.2" fill="#e3e52b"/>
<rect x="456.01" y="131.28" width="7.5" height="7.2" fill="#e3e52b"/>
<rect x="474.11" y="131.28" width="7.5" height="7.2" fill="#46068c"/>
<rect x="483.15" y="131.28" width="7.5" height="7.2" fill="#46068c"/>
<rect x="492.2" y="131.28" width="7.5" height="7.2" fill="#46068c"/>
<rect x="509.95" y="131.28" width="7.5" height="7.2" fill="#46068c"/>
<rect x="338.4" y="139.77" width="7.5" height="7.2" fill="#1a88f0"/>
<rect x="347.45" y="139.77" width="7.5" height="7.2" fill="#1a88f0"/>
<rect x="383.63" y="139.77" width="7.5" height="7.2" fill="#1a88f0"/>
<rect x="392.68" y="139.77" width="7.5" height="7.2" fill="#b8060b"/>
<rect x="401.73" y="139.77" width="7.5" height="7.2" fill="#b8060b"/>
<rect x="410.78" y="139.77" width="7.5" height="7.2" fill="#b8060b"/>
<rect x="419.82" y="139.77" width="7.5" height="7.2" fill="#1a88f0"/>
<rect x="428.87" y="139.77" width="7.5" height="7.2" fill="#b8060b"/>
<rect x="437.92" y="139.77" width="7.5" height="7.2" fill="#e3e52b"/>
<rect x="446.96" y="139.77" width="7.5" height="7.2" fill="url(#hY)"/>
<rect x="456.01" y="139.77" width="7.5" height="7.2" fill="#e3e52b"/>
<rect x="474.11" y="139.77" width="7.5" height="7.2" fill="#46068c"/>
<rect x="483.15" y="139.77" width="7.5" height="7.2" fill="#46068c"/>
<rect x="492.2" y="139.77" width="7.5" height="7.2" fill="#46068c"/>
<rect x="509.95" y="139.77" width="7.5" height="7.2" fill="#46068c"/>
<rect x="338.4" y="148.25" width="7.5" height="7.2" fill="#1a88f0"/>
<rect x="347.45" y="148.25" width="7.5" height="7.2" fill="#1a88f0"/>
<rect x="383.63" y="148.25" width="7.5" height="7.2" fill="#1a88f0"/>
<rect x="392.68" y="148.25" width="7.5" height="7.2" fill="#b8060b"/>
<rect x="401.73" y="148.25" width="7.5" height="7.2" fill="#b8060b"/>
<rect x="419.82" y="148.25" width="7.5" height="7.2" fill="#1a88f0"/>
<rect x="428.87" y="148.25" width="7.5" height="7.2" fill="#b8060b"/>
<rect x="437.92" y="148.25" width="7.5" height="7.2" fill="#e3e52b"/>
<rect x="474.11" y="148.25" width="7.5" height="7.2" fill="#46068c"/>
<rect x="483.15" y="148.25" width="7.5" height="7.2" fill="#46068c"/>
<rect x="492.2" y="148.25" width="7.5" height="7.2" fill="#46068c"/>
<rect x="509.95" y="148.25" width="7.5" height="7.2" fill="#46068c"/>
<rect x="338.4" y="156.74" width="7.5" height="7.2" fill="#1a88f0"/>
<rect x="347.45" y="156.74" width="7.5" height="7.2" fill="#1a88f0"/>
<rect x="383.63" y="156.74" width="7.5" height="7.2" fill="#1a88f0"/>
<rect x="392.68" y="156.74" width="7.5" height="7.2" fill="#b8060b"/>
<rect x="401.73" y="156.74" width="7.5" height="7.2" fill="#b8060b"/>
<rect x="410.78" y="156.74" width="7.5" height="7.2" fill="#b8060b"/>
<rect x="419.82" y="156.74" width="7.5" height="7.2" fill="#1a88f0"/>
<rect x="428.87" y="156.74" width="7.5" height="7.2" fill="#b8060b"/>
<rect x="437.92" y="156.74" width="7.5" height="7.2" fill="#e3e52b"/>
<rect x="446.96" y="156.74" width="7.5" height="7.2" fill="url(#hY)"/>
<rect x="456.01" y="156.74" width="7.5" height="7.2" fill="#e3e52b"/>
<rect x="474.11" y="156.74" width="7.5" height="7.2" fill="#46068c"/>
<rect x="483.15" y="156.74" width="7.5" height="7.2" fill="#46068c"/>
<rect x="492.2" y="156.74" width="7.5" height="7.2" fill="#46068c"/>
<rect x="509.95" y="156.74" width="7.5" height="7.2" fill="#46068c"/>
<rect x="347.45" y="165.22" width="7.5" height="7.2" fill="#1a88f0"/>
<rect x="383.63" y="165.22" width="7.5" height="7.2" fill="#1a88f0"/>
<rect x="392.68" y="165.22" width="7.5" height="7.2" fill="#b8060b"/>
<rect x="401.73" y="165.22" width="7.5" height="7.2" fill="#b8060b"/>
<rect x="419.82" y="165.22" width="7.5" height="7.2" fill="#1a88f0"/>
<rect x="428.87" y="165.22" width="7.5" height="7.2" fill="#b8060b"/>
<rect x="474.11" y="165.22" width="7.5" height="7.2" fill="#46068c"/>
<rect x="483.15" y="165.22" width="7.5" height="7.2" fill="#46068c"/>
<rect x="492.2" y="165.22" width="7.5" height="7.2" fill="#46068c"/>
<rect x="509.95" y="165.22" width="7.5" height="7.2" fill="#46068c"/>
<rect x="338.4" y="173.71" width="7.5" height="7.2" fill="#1a88f0"/>
<rect x="347.45" y="173.71" width="7.5" height="7.2" fill="#1a88f0"/>
<rect x="356.49" y="173.71" width="7.5" height="7.2" fill="url(#hY)"/>
<rect x="365.54" y="173.71" width="7.5" height="7.2" fill="url(#hY)"/>
<rect x="383.63" y="173.71" width="7.5" height="7.2" fill="#1a88f0"/>
<rect x="392.68" y="173.71" width="7.5" height="7.2" fill="#b8060b"/>
<rect x="401.73" y="173.71" width="7.5" height="7.2" fill="#b8060b"/>
<rect x="410.78" y="173.71" width="7.5" height="7.2" fill="#b8060b"/>
<rect x="419.82" y="173.71" width="7.5" height="7.2" fill="#1a88f0"/>
<rect x="428.87" y="173.71" width="7.5" height="7.2" fill="#b8060b"/>
<rect x="437.92" y="173.71" width="7.5" height="7.2" fill="url(#hY)"/>
<rect x="456.01" y="173.71" width="7.5" height="7.2" fill="url(#hY)"/>
<rect x="465.06" y="173.71" width="7.5" height="7.2" fill="#e3e52b"/>
<rect x="474.11" y="173.71" width="7.5" height="7.2" fill="#46068c"/>
<rect x="483.15" y="173.71" width="7.5" height="7.2" fill="#46068c"/>
<rect x="492.2" y="173.71" width="7.5" height="7.2" fill="#46068c"/>
<rect x="509.95" y="173.71" width="7.5" height="7.2" fill="#46068c"/>
<rect x="338.4" y="182.2" width="7.5" height="7.2" fill="#1a88f0"/>
<rect x="347.45" y="182.2" width="7.5" height="7.2" fill="#1a88f0"/>
<rect x="383.63" y="182.2" width="7.5" height="7.2" fill="#1a88f0"/>
<rect x="401.73" y="182.2" width="7.5" height="7.2" fill="#b8060b"/>
<rect x="419.82" y="182.2" width="7.5" height="7.2" fill="#1a88f0"/>
<rect x="428.87" y="182.2" width="7.5" height="7.2" fill="#b8060b"/>
<rect x="474.11" y="182.2" width="7.5" height="7.2" fill="#46068c"/>
<rect x="483.15" y="182.2" width="7.5" height="7.2" fill="#46068c"/>
<rect x="492.2" y="182.2" width="7.5" height="7.2" fill="#46068c"/>
<rect x="509.95" y="182.2" width="7.5" height="7.2" fill="#46068c"/>
<rect x="338.4" y="190.68" width="7.5" height="7.2" fill="#1a88f0"/>
<rect x="347.45" y="190.68" width="7.5" height="7.2" fill="#1a88f0"/>
<rect x="383.63" y="190.68" width="7.5" height="7.2" fill="#1a88f0"/>
<rect x="401.73" y="190.68" width="7.5" height="7.2" fill="#b8060b"/>
<rect x="419.82" y="190.68" width="7.5" height="7.2" fill="#1a88f0"/>
<rect x="428.87" y="190.68" width="7.5" height="7.2" fill="#b8060b"/>
<rect x="465.06" y="190.68" width="7.5" height="7.2" fill="#e3e52b"/>
<rect x="474.11" y="190.68" width="7.5" height="7.2" fill="#46068c"/>
<rect x="483.15" y="190.68" width="7.5" height="7.2" fill="#46068c"/>
<rect x="492.2" y="190.68" width="7.5" height="7.2" fill="#46068c"/>
<rect x="509.95" y="190.68" width="7.5" height="7.2" fill="#46068c"/>
<rect x="338.4" y="199.16" width="7.5" height="7.2" fill="#1a88f0"/>
<rect x="347.45" y="199.16" width="7.5" height="7.2" fill="#1a88f0"/>
<rect x="383.63" y="199.16" width="7.5" height="7.2" fill="#1a88f0"/>
<rect x="392.68" y="199.16" width="7.5" height="7.2" fill="#b8060b"/>
<rect x="401.73" y="199.16" width="7.5" height="7.2" fill="#b8060b"/>
<rect x="410.78" y="199.16" width="7.5" height="7.2" fill="#b8060b"/>
<rect x="419.82" y="199.16" width="7.5" height="7.2" fill="#1a88f0"/>
<rect x="428.87" y="199.16" width="7.5" height="7.2" fill="#b8060b"/>
<rect x="465.06" y="199.16" width="7.5" height="7.2" fill="#e3e52b"/>
<rect x="474.11" y="199.16" width="7.5" height="7.2" fill="#46068c"/>
<rect x="483.15" y="199.16" width="7.5" height="7.2" fill="#46068c"/>
<rect x="492.2" y="199.16" width="7.5" height="7.2" fill="#46068c"/>
<rect x="509.95" y="199.16" width="7.5" height="7.2" fill="#46068c"/>
<rect x="338.4" y="207.65" width="7.5" height="7.2" fill="#1a88f0"/>
<rect x="347.45" y="207.65" width="7.5" height="7.2" fill="#1a88f0"/>
<rect x="356.49" y="207.65" width="7.5" height="7.2" fill="url(#hY)"/>
<rect x="383.63" y="207.65" width="7.5" height="7.2" fill="#1a88f0"/>
<rect x="392.68" y="207.65" width="7.5" height="7.2" fill="#b8060b"/>
<rect x="401.73" y="207.65" width="7.5" height="7.2" fill="#b8060b"/>
<rect x="410.78" y="207.65" width="7.5" height="7.2" fill="#b8060b"/>
<rect x="419.82" y="207.65" width="7.5" height="7.2" fill="#1a88f0"/>
<rect x="428.87" y="207.65" width="7.5" height="7.2" fill="#b8060b"/>
<rect x="465.06" y="207.65" width="7.5" height="7.2" fill="#e3e52b"/>
<rect x="474.11" y="207.65" width="7.5" height="7.2" fill="#46068c"/>
<rect x="483.15" y="207.65" width="7.5" height="7.2" fill="#46068c"/>
<rect x="492.2" y="207.65" width="7.5" height="7.2" fill="#46068c"/>
<rect x="509.95" y="207.65" width="7.5" height="7.2" fill="#46068c"/>
<rect x="338.4" y="216.14" width="7.5" height="7.2" fill="#1a88f0"/>
<rect x="347.45" y="216.14" width="7.5" height="7.2" fill="#1a88f0"/>
<rect x="356.49" y="216.14" width="7.5" height="7.2" fill="url(#hY)"/>
<rect x="383.63" y="216.14" width="7.5" height="7.2" fill="#1a88f0"/>
<rect x="392.68" y="216.14" width="7.5" height="7.2" fill="#b8060b"/>
<rect x="401.73" y="216.14" width="7.5" height="7.2" fill="#b8060b"/>
<rect x="419.82" y="216.14" width="7.5" height="7.2" fill="#1a88f0"/>
<rect x="428.87" y="216.14" width="7.5" height="7.2" fill="#b8060b"/>
<rect x="456.01" y="216.14" width="7.5" height="7.2" fill="#e3e52b"/>
<rect x="465.06" y="216.14" width="7.5" height="7.2" fill="#e3e52b"/>
<rect x="474.11" y="216.14" width="7.5" height="7.2" fill="#46068c"/>
<rect x="483.15" y="216.14" width="7.5" height="7.2" fill="#46068c"/>
<rect x="492.2" y="216.14" width="7.5" height="7.2" fill="#46068c"/>
<rect x="509.95" y="216.14" width="7.5" height="7.2" fill="#46068c"/>
<rect x="338.4" y="224.62" width="7.5" height="7.2" fill="#1a88f0"/>
<rect x="347.45" y="224.62" width="7.5" height="7.2" fill="#1a88f0"/>
<rect x="356.49" y="224.62" width="7.5" height="7.2" fill="#e3e52b"/>
<rect x="383.63" y="224.62" width="7.5" height="7.2" fill="#1a88f0"/>
<rect x="392.68" y="224.62" width="7.5" height="7.2" fill="#b8060b"/>
<rect x="401.73" y="224.62" width="7.5" height="7.2" fill="#b8060b"/>
<rect x="410.78" y="224.62" width="7.5" height="7.2" fill="#b8060b"/>
<rect x="419.82" y="224.62" width="7.5" height="7.2" fill="#1a88f0"/>
<rect x="428.87" y="224.62" width="7.5" height="7.2" fill="#b8060b"/>
<rect x="456.01" y="224.62" width="7.5" height="7.2" fill="url(#hY)"/>
<rect x="465.06" y="224.62" width="7.5" height="7.2" fill="#e3e52b"/>
<rect x="474.11" y="224.62" width="7.5" height="7.2" fill="#46068c"/>
<rect x="483.15" y="224.62" width="7.5" height="7.2" fill="#46068c"/>
<rect x="492.2" y="224.62" width="7.5" height="7.2" fill="#46068c"/>
<rect x="509.95" y="224.62" width="7.5" height="7.2" fill="#46068c"/>
<rect x="338.4" y="233.1" width="7.5" height="7.2" fill="#1a88f0"/>
<rect x="347.45" y="233.1" width="7.5" height="7.2" fill="#1a88f0"/>
<rect x="356.49" y="233.1" width="7.5" height="7.2" fill="#e3e52b"/>
<rect x="383.63" y="233.1" width="7.5" height="7.2" fill="#1a88f0"/>
<rect x="392.68" y="233.1" width="7.5" height="7.2" fill="#b8060b"/>
<rect x="401.73" y="233.1" width="7.5" height="7.2" fill="#b8060b"/>
<rect x="410.78" y="233.1" width="7.5" height="7.2" fill="#b8060b"/>
<rect x="419.82" y="233.1" width="7.5" height="7.2" fill="#1a88f0"/>
<rect x="428.87" y="233.1" width="7.5" height="7.2" fill="#b8060b"/>
<rect x="437.92" y="233.1" width="7.5" height="7.2" fill="url(#hY)"/>
<rect x="456.01" y="233.1" width="7.5" height="7.2" fill="url(#hY)"/>
<rect x="465.06" y="233.1" width="7.5" height="7.2" fill="#e3e52b"/>
<rect x="474.11" y="233.1" width="7.5" height="7.2" fill="#46068c"/>
<rect x="483.15" y="233.1" width="7.5" height="7.2" fill="#46068c"/>
<rect x="492.2" y="233.1" width="7.5" height="7.2" fill="#46068c"/>
<rect x="509.95" y="233.1" width="7.5" height="7.2" fill="#46068c"/>
<rect x="338.4" y="241.59" width="7.5" height="7.2" fill="#1a88f0"/>
<rect x="347.45" y="241.59" width="7.5" height="7.2" fill="#1a88f0"/>
<rect x="383.63" y="241.59" width="7.5" height="7.2" fill="#1a88f0"/>
<rect x="392.68" y="241.59" width="7.5" height="7.2" fill="#b8060b"/>
<rect x="401.73" y="241.59" width="7.5" height="7.2" fill="#b8060b"/>
<rect x="419.82" y="241.59" width="7.5" height="7.2" fill="#1a88f0"/>
<rect x="428.87" y="241.59" width="7.5" height="7.2" fill="#b8060b"/>
<rect x="456.01" y="241.59" width="7.5" height="7.2" fill="url(#hY)"/>
<rect x="474.11" y="241.59" width="7.5" height="7.2" fill="#46068c"/>
<rect x="483.15" y="241.59" width="7.5" height="7.2" fill="#46068c"/>
<rect x="492.2" y="241.59" width="7.5" height="7.2" fill="#46068c"/>
<rect x="509.95" y="241.59" width="7.5" height="7.2" fill="#46068c"/>
<rect x="338.4" y="250.08" width="7.5" height="7.2" fill="url(#hB)"/>
<rect x="347.45" y="250.08" width="7.5" height="7.2" fill="#1a88f0"/>
<rect x="383.63" y="250.08" width="7.5" height="7.2" fill="#1a88f0"/>
<rect x="392.68" y="250.08" width="7.5" height="7.2" fill="#b8060b"/>
<rect x="401.73" y="250.08" width="7.5" height="7.2" fill="#b8060b"/>
<rect x="410.78" y="250.08" width="7.5" height="7.2" fill="#b8060b"/>
<rect x="419.82" y="250.08" width="7.5" height="7.2" fill="#1a88f0"/>
<rect x="428.87" y="250.08" width="7.5" height="7.2" fill="#b8060b"/>
<rect x="474.11" y="250.08" width="7.5" height="7.2" fill="#46068c"/>
<rect x="483.15" y="250.08" width="7.5" height="7.2" fill="#46068c"/>
<rect x="492.2" y="250.08" width="7.5" height="7.2" fill="#46068c"/>
<rect x="509.95" y="250.08" width="7.5" height="7.2" fill="#46068c"/>
<rect x="347.45" y="258.56" width="7.5" height="7.2" fill="#1a88f0"/>
<rect x="383.63" y="258.56" width="7.5" height="7.2" fill="#1a88f0"/>
<rect x="392.68" y="258.56" width="7.5" height="7.2" fill="#b8060b"/>
<rect x="401.73" y="258.56" width="7.5" height="7.2" fill="#b8060b"/>
<rect x="410.78" y="258.56" width="7.5" height="7.2" fill="#b8060b"/>
<rect x="419.82" y="258.56" width="7.5" height="7.2" fill="#1a88f0"/>
<rect x="428.87" y="258.56" width="7.5" height="7.2" fill="#b8060b"/>
<rect x="474.11" y="258.56" width="7.5" height="7.2" fill="#46068c"/>
<rect x="483.15" y="258.56" width="7.5" height="7.2" fill="#46068c"/>
<rect x="492.2" y="258.56" width="7.5" height="7.2" fill="#46068c"/>
<rect x="509.95" y="258.56" width="7.5" height="7.2" fill="#46068c"/>
<rect x="338.4" y="267.04" width="7.5" height="7.2" fill="#1a88f0"/>
<rect x="347.45" y="267.04" width="7.5" height="7.2" fill="#1a88f0"/>
<rect x="356.49" y="267.04" width="7.5" height="7.2" fill="url(#hY)"/>
<rect x="383.63" y="267.04" width="7.5" height="7.2" fill="#1a88f0"/>
<rect x="392.68" y="267.04" width="7.5" height="7.2" fill="url(#hR)"/>
<rect x="401.73" y="267.04" width="7.5" height="7.2" fill="#b8060b"/>
<rect x="410.78" y="267.04" width="7.5" height="7.2" fill="url(#hR)"/>
<rect x="419.82" y="267.04" width="7.5" height="7.2" fill="#1a88f0"/>
<rect x="428.87" y="267.04" width="7.5" height="7.2" fill="#b8060b"/>
<rect x="437.92" y="267.04" width="7.5" height="7.2" fill="#e3e52b"/>
<rect x="465.06" y="267.04" width="7.5" height="7.2" fill="#e3e52b"/>
<rect x="474.11" y="267.04" width="7.5" height="7.2" fill="#46068c"/>
<rect x="483.15" y="267.04" width="7.5" height="7.2" fill="#46068c"/>
<rect x="492.2" y="267.04" width="7.5" height="7.2" fill="#46068c"/>
<rect x="509.95" y="267.04" width="7.5" height="7.2" fill="#46068c"/>
<rect x="338.4" y="275.53" width="7.5" height="7.2" fill="#1a88f0"/>
<rect x="347.45" y="275.53" width="7.5" height="7.2" fill="#1a88f0"/>
<rect x="383.63" y="275.53" width="7.5" height="7.2" fill="#1a88f0"/>
<rect x="392.68" y="275.53" width="7.5" height="7.2" fill="#b8060b"/>
<rect x="401.73" y="275.53" width="7.5" height="7.2" fill="#b8060b"/>
<rect x="419.82" y="275.53" width="7.5" height="7.2" fill="#1a88f0"/>
<rect x="428.87" y="275.53" width="7.5" height="7.2" fill="#b8060b"/>
<rect x="437.92" y="275.53" width="7.5" height="7.2" fill="#e3e52b"/>
<rect x="465.06" y="275.53" width="7.5" height="7.2" fill="#e3e52b"/>
<rect x="474.11" y="275.53" width="7.5" height="7.2" fill="#46068c"/>
<rect x="483.15" y="275.53" width="7.5" height="7.2" fill="#46068c"/>
<rect x="492.2" y="275.53" width="7.5" height="7.2" fill="#46068c"/>
<rect x="509.95" y="275.53" width="7.5" height="7.2" fill="#46068c"/>
<rect x="338.4" y="284.01" width="7.5" height="7.2" fill="#1a88f0"/>
<rect x="347.45" y="284.01" width="7.5" height="7.2" fill="#1a88f0"/>
<rect x="356.49" y="284.01" width="7.5" height="7.2" fill="#e3e52b"/>
<rect x="383.63" y="284.01" width="7.5" height="7.2" fill="#1a88f0"/>
<rect x="392.68" y="284.01" width="7.5" height="7.2" fill="#b8060b"/>
<rect x="401.73" y="284.01" width="7.5" height="7.2" fill="#b8060b"/>
<rect x="410.78" y="284.01" width="7.5" height="7.2" fill="#b8060b"/>
<rect x="419.82" y="284.01" width="7.5" height="7.2" fill="#1a88f0"/>
<rect x="428.87" y="284.01" width="7.5" height="7.2" fill="#b8060b"/>
<rect x="437.92" y="284.01" width="7.5" height="7.2" fill="url(#hY)"/>
<rect x="465.06" y="284.01" width="7.5" height="7.2" fill="#e3e52b"/>
<rect x="474.11" y="284.01" width="7.5" height="7.2" fill="#46068c"/>
<rect x="483.15" y="284.01" width="7.5" height="7.2" fill="#46068c"/>
<rect x="492.2" y="284.01" width="7.5" height="7.2" fill="#46068c"/>
<rect x="509.95" y="284.01" width="7.5" height="7.2" fill="#46068c"/>
<rect x="338.4" y="292.5" width="7.5" height="7.2" fill="#1a88f0"/>
<rect x="347.45" y="292.5" width="7.5" height="7.2" fill="#1a88f0"/>
<rect x="383.63" y="292.5" width="7.5" height="7.2" fill="#1a88f0"/>
<rect x="392.68" y="292.5" width="7.5" height="7.2" fill="#b8060b"/>
<rect x="401.73" y="292.5" width="7.5" height="7.2" fill="#b8060b"/>
<rect x="410.78" y="292.5" width="7.5" height="7.2" fill="#b8060b"/>
<rect x="419.82" y="292.5" width="7.5" height="7.2" fill="#1a88f0"/>
<rect x="428.87" y="292.5" width="7.5" height="7.2" fill="#b8060b"/>
<rect x="465.06" y="292.5" width="7.5" height="7.2" fill="#e3e52b"/>
<rect x="474.11" y="292.5" width="7.5" height="7.2" fill="#46068c"/>
<rect x="483.15" y="292.5" width="7.5" height="7.2" fill="#46068c"/>
<rect x="492.2" y="292.5" width="7.5" height="7.2" fill="#46068c"/>
<rect x="509.95" y="292.5" width="7.5" height="7.2" fill="#46068c"/>
<rect x="338.4" y="300.98" width="7.5" height="7.2" fill="#1a88f0"/>
<rect x="347.45" y="300.98" width="7.5" height="7.2" fill="#1a88f0"/>
<rect x="356.49" y="300.98" width="7.5" height="7.2" fill="url(#hY)"/>
<rect x="383.63" y="300.98" width="7.5" height="7.2" fill="#1a88f0"/>
<rect x="392.68" y="300.98" width="7.5" height="7.2" fill="#b8060b"/>
<rect x="401.73" y="300.98" width="7.5" height="7.2" fill="#b8060b"/>
<rect x="410.78" y="300.98" width="7.5" height="7.2" fill="#b8060b"/>
<rect x="419.82" y="300.98" width="7.5" height="7.2" fill="#1a88f0"/>
<rect x="428.87" y="300.98" width="7.5" height="7.2" fill="#b8060b"/>
<rect x="465.06" y="300.98" width="7.5" height="7.2" fill="#e3e52b"/>
<rect x="474.11" y="300.98" width="7.5" height="7.2" fill="#46068c"/>
<rect x="483.15" y="300.98" width="7.5" height="7.2" fill="#46068c"/>
<rect x="492.2" y="300.98" width="7.5" height="7.2" fill="#46068c"/>
<rect x="509.95" y="300.98" width="7.5" height="7.2" fill="#46068c"/>
<rect x="347.45" y="309.47" width="7.5" height="7.2" fill="#1a88f0"/>
<rect x="383.63" y="309.47" width="7.5" height="7.2" fill="#1a88f0"/>
<rect x="401.73" y="309.47" width="7.5" height="7.2" fill="#b8060b"/>
<rect x="419.82" y="309.47" width="7.5" height="7.2" fill="#1a88f0"/>
<rect x="428.87" y="309.47" width="7.5" height="7.2" fill="#b8060b"/>
<rect x="465.06" y="309.47" width="7.5" height="7.2" fill="#e3e52b"/>
<rect x="474.11" y="309.47" width="7.5" height="7.2" fill="#46068c"/>
<rect x="483.15" y="309.47" width="7.5" height="7.2" fill="#46068c"/>
<rect x="492.2" y="309.47" width="7.5" height="7.2" fill="#46068c"/>
<rect x="509.95" y="309.47" width="7.5" height="7.2" fill="#46068c"/>
<rect x="338.4" y="317.95" width="7.5" height="7.2" fill="#1a88f0"/>
<rect x="347.45" y="317.95" width="7.5" height="7.2" fill="#1a88f0"/>
<rect x="392.68" y="317.95" width="7.5" height="7.2" fill="#b8060b"/>
<rect x="401.73" y="317.95" width="7.5" height="7.2" fill="#b8060b"/>
<rect x="419.82" y="317.95" width="7.5" height="7.2" fill="#1a88f0"/>
<rect x="428.87" y="317.95" width="7.5" height="7.2" fill="#b8060b"/>
<rect x="465.06" y="317.95" width="7.5" height="7.2" fill="#e3e52b"/>
<rect x="474.11" y="317.95" width="7.5" height="7.2" fill="#46068c"/>
<rect x="483.15" y="317.95" width="7.5" height="7.2" fill="#46068c"/>
<rect x="492.2" y="317.95" width="7.5" height="7.2" fill="#46068c"/>
<rect x="509.95" y="317.95" width="7.5" height="7.2" fill="#46068c"/>
<rect x="338.4" y="326.44" width="7.5" height="7.2" fill="#1a88f0"/>
<rect x="347.45" y="326.44" width="7.5" height="7.2" fill="#1a88f0"/>
<rect x="356.49" y="326.44" width="7.5" height="7.2" fill="url(#hY)"/>
<rect x="383.63" y="326.44" width="7.5" height="7.2" fill="#1a88f0"/>
<rect x="392.68" y="326.44" width="7.5" height="7.2" fill="#b8060b"/>
<rect x="401.73" y="326.44" width="7.5" height="7.2" fill="#b8060b"/>
<rect x="410.78" y="326.44" width="7.5" height="7.2" fill="#b8060b"/>
<rect x="419.82" y="326.44" width="7.5" height="7.2" fill="#1a88f0"/>
<rect x="428.87" y="326.44" width="7.5" height="7.2" fill="#b8060b"/>
<rect x="437.92" y="326.44" width="7.5" height="7.2" fill="#e3e52b"/>
<rect x="465.06" y="326.44" width="7.5" height="7.2" fill="#e3e52b"/>
<rect x="474.11" y="326.44" width="7.5" height="7.2" fill="#46068c"/>
<rect x="483.15" y="326.44" width="7.5" height="7.2" fill="#46068c"/>
<rect x="492.2" y="326.44" width="7.5" height="7.2" fill="#46068c"/>
<rect x="509.95" y="326.44" width="7.5" height="7.2" fill="#46068c"/>
<rect x="338.4" y="334.92" width="7.5" height="7.2" fill="#1a88f0"/>
<rect x="347.45" y="334.92" width="7.5" height="7.2" fill="#1a88f0"/>
<rect x="383.63" y="334.92" width="7.5" height="7.2" fill="#1a88f0"/>
<rect x="392.68" y="334.92" width="7.5" height="7.2" fill="#b8060b"/>
<rect x="401.73" y="334.92" width="7.5" height="7.2" fill="#b8060b"/>
<rect x="410.78" y="334.92" width="7.5" height="7.2" fill="#b8060b"/>
<rect x="419.82" y="334.92" width="7.5" height="7.2" fill="#1a88f0"/>
<rect x="428.87" y="334.92" width="7.5" height="7.2" fill="#b8060b"/>
<rect x="437.92" y="334.92" width="7.5" height="7.2" fill="#e3e52b"/>
<rect x="465.06" y="334.92" width="7.5" height="7.2" fill="#e3e52b"/>
<rect x="474.11" y="334.92" width="7.5" height="7.2" fill="#46068c"/>
<rect x="483.15" y="334.92" width="7.5" height="7.2" fill="#46068c"/>
<rect x="492.2" y="334.92" width="7.5" height="7.2" fill="#46068c"/>
<rect x="509.95" y="334.92" width="7.5" height="7.2" fill="#46068c"/>
<rect x="338.4" y="343.41" width="7.5" height="7.2" fill="#1a88f0"/>
<rect x="347.45" y="343.41" width="7.5" height="7.2" fill="#1a88f0"/>
<rect x="356.49" y="343.41" width="7.5" height="7.2" fill="#e3e52b"/>
<rect x="383.63" y="343.41" width="7.5" height="7.2" fill="#1a88f0"/>
<rect x="392.68" y="343.41" width="7.5" height="7.2" fill="#b8060b"/>
<rect x="401.73" y="343.41" width="7.5" height="7.2" fill="#b8060b"/>
<rect x="410.78" y="343.41" width="7.5" height="7.2" fill="#b8060b"/>
<rect x="419.82" y="343.41" width="7.5" height="7.2" fill="#1a88f0"/>
<rect x="428.87" y="343.41" width="7.5" height="7.2" fill="#b8060b"/>
<rect x="437.92" y="343.41" width="7.5" height="7.2" fill="#e3e52b"/>
<rect x="465.06" y="343.41" width="7.5" height="7.2" fill="#e3e52b"/>
<rect x="474.11" y="343.41" width="7.5" height="7.2" fill="#46068c"/>
<rect x="483.15" y="343.41" width="7.5" height="7.2" fill="#46068c"/>
<rect x="492.2" y="343.41" width="7.5" height="7.2" fill="#46068c"/>
<rect x="509.95" y="343.41" width="7.5" height="7.2" fill="#46068c"/>
<rect x="338.4" y="351.89" width="7.5" height="7.2" fill="#1a88f0"/>
<rect x="347.45" y="351.89" width="7.5" height="7.2" fill="#1a88f0"/>
<rect x="356.49" y="351.89" width="7.5" height="7.2" fill="url(#hY)"/>
<rect x="383.63" y="351.89" width="7.5" height="7.2" fill="#1a88f0"/>
<rect x="392.68" y="351.89" width="7.5" height="7.2" fill="#b8060b"/>
<rect x="401.73" y="351.89" width="7.5" height="7.2" fill="#b8060b"/>
<rect x="410.78" y="351.89" width="7.5" height="7.2" fill="#b8060b"/>
<rect x="419.82" y="351.89" width="7.5" height="7.2" fill="#1a88f0"/>
<rect x="428.87" y="351.89" width="7.5" height="7.2" fill="#b8060b"/>
<rect x="437.92" y="351.89" width="7.5" height="7.2" fill="#e3e52b"/>
<rect x="465.06" y="351.89" width="7.5" height="7.2" fill="#e3e52b"/>
<rect x="474.11" y="351.89" width="7.5" height="7.2" fill="#46068c"/>
<rect x="483.15" y="351.89" width="7.5" height="7.2" fill="#46068c"/>
<rect x="492.2" y="351.89" width="7.5" height="7.2" fill="#46068c"/>
<rect x="509.95" y="351.89" width="7.5" height="7.2" fill="#46068c"/>
<rect x="338.4" y="360.38" width="7.5" height="7.2" fill="#1a88f0"/>
<rect x="347.45" y="360.38" width="7.5" height="7.2" fill="#1a88f0"/>
<rect x="356.49" y="360.38" width="7.5" height="7.2" fill="url(#hY)"/>
<rect x="383.63" y="360.38" width="7.5" height="7.2" fill="#1a88f0"/>
<rect x="392.68" y="360.38" width="7.5" height="7.2" fill="#b8060b"/>
<rect x="401.73" y="360.38" width="7.5" height="7.2" fill="#b8060b"/>
<rect x="410.78" y="360.38" width="7.5" height="7.2" fill="#b8060b"/>
<rect x="419.82" y="360.38" width="7.5" height="7.2" fill="#1a88f0"/>
<rect x="428.87" y="360.38" width="7.5" height="7.2" fill="#b8060b"/>
<rect x="437.92" y="360.38" width="7.5" height="7.2" fill="#e3e52b"/>
<rect x="456.01" y="360.38" width="7.5" height="7.2" fill="#e3e52b"/>
<rect x="465.06" y="360.38" width="7.5" height="7.2" fill="#e3e52b"/>
<rect x="474.11" y="360.38" width="7.5" height="7.2" fill="#46068c"/>
<rect x="483.15" y="360.38" width="7.5" height="7.2" fill="#46068c"/>
<rect x="492.2" y="360.38" width="7.5" height="7.2" fill="#46068c"/>
<rect x="509.95" y="360.38" width="7.5" height="7.2" fill="#46068c"/>
<rect x="338.4" y="368.86" width="7.5" height="7.2" fill="#1a88f0"/>
<rect x="347.45" y="368.86" width="7.5" height="7.2" fill="#1a88f0"/>
<rect x="356.49" y="368.86" width="7.5" height="7.2" fill="url(#hY)"/>
<rect x="383.63" y="368.86" width="7.5" height="7.2" fill="#1a88f0"/>
<rect x="392.68" y="368.86" width="7.5" height="7.2" fill="#b8060b"/>
<rect x="401.73" y="368.86" width="7.5" height="7.2" fill="#b8060b"/>
<rect x="410.78" y="368.86" width="7.5" height="7.2" fill="#b8060b"/>
<rect x="419.82" y="368.86" width="7.5" height="7.2" fill="#1a88f0"/>
<rect x="428.87" y="368.86" width="7.5" height="7.2" fill="#b8060b"/>
<rect x="437.92" y="368.86" width="7.5" height="7.2" fill="#e3e52b"/>
<rect x="456.01" y="368.86" width="7.5" height="7.2" fill="#e3e52b"/>
<rect x="465.06" y="368.86" width="7.5" height="7.2" fill="#e3e52b"/>
<rect x="474.11" y="368.86" width="7.5" height="7.2" fill="#46068c"/>
<rect x="483.15" y="368.86" width="7.5" height="7.2" fill="#46068c"/>
<rect x="492.2" y="368.86" width="7.5" height="7.2" fill="#46068c"/>
<rect x="509.95" y="368.86" width="7.5" height="7.2" fill="#46068c"/>
<rect x="338.4" y="377.35" width="7.5" height="7.2" fill="#1a88f0"/>
<rect x="347.45" y="377.35" width="7.5" height="7.2" fill="#1a88f0"/>
<rect x="356.49" y="377.35" width="7.5" height="7.2" fill="url(#hY)"/>
<rect x="401.73" y="377.35" width="7.5" height="7.2" fill="#b8060b"/>
<rect x="410.78" y="377.35" width="7.5" height="7.2" fill="#b8060b"/>
<rect x="419.82" y="377.35" width="7.5" height="7.2" fill="#1a88f0"/>
<rect x="428.87" y="377.35" width="7.5" height="7.2" fill="#b8060b"/>
<rect x="474.11" y="377.35" width="7.5" height="7.2" fill="#46068c"/>
<rect x="483.15" y="377.35" width="7.5" height="7.2" fill="#46068c"/>
<rect x="492.2" y="377.35" width="7.5" height="7.2" fill="#46068c"/>
<rect x="509.95" y="377.35" width="7.5" height="7.2" fill="#46068c"/>
<rect x="338.4" y="385.83" width="7.5" height="7.2" fill="#1a88f0"/>
<rect x="347.45" y="385.83" width="7.5" height="7.2" fill="#1a88f0"/>
<rect x="383.63" y="385.83" width="7.5" height="7.2" fill="#1a88f0"/>
<rect x="392.68" y="385.83" width="7.5" height="7.2" fill="#b8060b"/>
<rect x="401.73" y="385.83" width="7.5" height="7.2" fill="#b8060b"/>
<rect x="410.78" y="385.83" width="7.5" height="7.2" fill="#b8060b"/>
<rect x="419.82" y="385.83" width="7.5" height="7.2" fill="#1a88f0"/>
<rect x="428.87" y="385.83" width="7.5" height="7.2" fill="#b8060b"/>
<rect x="437.92" y="385.83" width="7.5" height="7.2" fill="#e3e52b"/>
<rect x="456.01" y="385.83" width="7.5" height="7.2" fill="#e3e52b"/>
<rect x="465.06" y="385.83" width="7.5" height="7.2" fill="#e3e52b"/>
<rect x="474.11" y="385.83" width="7.5" height="7.2" fill="#46068c"/>
<rect x="483.15" y="385.83" width="7.5" height="7.2" fill="#46068c"/>
<rect x="492.2" y="385.83" width="7.5" height="7.2" fill="#46068c"/>
<rect x="509.95" y="385.83" width="7.5" height="7.2" fill="#46068c"/>
<rect x="338.4" y="394.32" width="7.5" height="7.2" fill="#1a88f0"/>
<rect x="347.45" y="394.32" width="7.5" height="7.2" fill="#1a88f0"/>
<rect x="356.49" y="394.32" width="7.5" height="7.2" fill="url(#hY)"/>
<rect x="365.54" y="394.32" width="7.5" height="7.2" fill="url(#hY)"/>
<rect x="383.63" y="394.32" width="7.5" height="7.2" fill="#1a88f0"/>
<rect x="392.68" y="394.32" width="7.5" height="7.2" fill="#b8060b"/>
<rect x="401.73" y="394.32" width="7.5" height="7.2" fill="#b8060b"/>
<rect x="410.78" y="394.32" width="7.5" height="7.2" fill="#b8060b"/>
<rect x="419.82" y="394.32" width="7.5" height="7.2" fill="#1a88f0"/>
<rect x="428.87" y="394.32" width="7.5" height="7.2" fill="#b8060b"/>
<rect x="437.92" y="394.32" width="7.5" height="7.2" fill="#e3e52b"/>
<rect x="465.06" y="394.32" width="7.5" height="7.2" fill="#e3e52b"/>
<rect x="474.11" y="394.32" width="7.5" height="7.2" fill="#46068c"/>
<rect x="483.15" y="394.32" width="7.5" height="7.2" fill="#46068c"/>
<rect x="492.2" y="394.32" width="7.5" height="7.2" fill="#46068c"/>
<rect x="509.95" y="394.32" width="7.5" height="7.2" fill="#46068c"/>
<rect x="338.4" y="402.8" width="7.5" height="7.2" fill="#1a88f0"/>
<rect x="347.45" y="402.8" width="7.5" height="7.2" fill="#1a88f0"/>
<rect x="356.49" y="402.8" width="7.5" height="7.2" fill="url(#hY)"/>
<rect x="383.63" y="402.8" width="7.5" height="7.2" fill="#1a88f0"/>
<rect x="392.68" y="402.8" width="7.5" height="7.2" fill="url(#hR)"/>
<rect x="401.73" y="402.8" width="7.5" height="7.2" fill="#b8060b"/>
<rect x="410.78" y="402.8" width="7.5" height="7.2" fill="#b8060b"/>
<rect x="419.82" y="402.8" width="7.5" height="7.2" fill="#1a88f0"/>
<rect x="428.87" y="402.8" width="7.5" height="7.2" fill="#b8060b"/>
<rect x="437.92" y="402.8" width="7.5" height="7.2" fill="#e3e52b"/>
<rect x="456.01" y="402.8" width="7.5" height="7.2" fill="#e3e52b"/>
<rect x="465.06" y="402.8" width="7.5" height="7.2" fill="#e3e52b"/>
<rect x="474.11" y="402.8" width="7.5" height="7.2" fill="#46068c"/>
<rect x="483.15" y="402.8" width="7.5" height="7.2" fill="#46068c"/>
<rect x="492.2" y="402.8" width="7.5" height="7.2" fill="#46068c"/>
<rect x="509.95" y="402.8" width="7.5" height="7.2" fill="#46068c"/>
<rect x="347.45" y="411.29" width="7.5" height="7.2" fill="#1a88f0"/>
<rect x="383.63" y="411.29" width="7.5" height="7.2" fill="#1a88f0"/>
<rect x="401.73" y="411.29" width="7.5" height="7.2" fill="#b8060b"/>
<rect x="419.82" y="411.29" width="7.5" height="7.2" fill="#1a88f0"/>
<rect x="428.87" y="411.29" width="7.5" height="7.2" fill="#b8060b"/>
<rect x="474.11" y="411.29" width="7.5" height="7.2" fill="#46068c"/>
<rect x="483.15" y="411.29" width="7.5" height="7.2" fill="#46068c"/>
<rect x="492.2" y="411.29" width="7.5" height="7.2" fill="#46068c"/>
<rect x="509.95" y="411.29" width="7.5" height="7.2" fill="#46068c"/>
<rect x="347.45" y="419.77" width="7.5" height="7.2" fill="#1a88f0"/>
<rect x="392.68" y="419.77" width="7.5" height="7.2" fill="#b8060b"/>
<rect x="401.73" y="419.77" width="7.5" height="7.2" fill="#b8060b"/>
<rect x="419.82" y="419.77" width="7.5" height="7.2" fill="#1a88f0"/>
<rect x="428.87" y="419.77" width="7.5" height="7.2" fill="#b8060b"/>
<rect x="474.11" y="419.77" width="7.5" height="7.2" fill="#46068c"/>
<rect x="483.15" y="419.77" width="7.5" height="7.2" fill="#46068c"/>
<rect x="492.2" y="419.77" width="7.5" height="7.2" fill="#46068c"/>
<rect x="509.95" y="419.77" width="7.5" height="7.2" fill="#46068c"/>
<rect x="338.4" y="428.26" width="7.5" height="7.2" fill="#1a88f0"/>
<rect x="347.45" y="428.26" width="7.5" height="7.2" fill="#1a88f0"/>
<rect x="401.73" y="428.26" width="7.5" height="7.2" fill="#b8060b"/>
<rect x="410.78" y="428.26" width="7.5" height="7.2" fill="#b8060b"/>
<rect x="419.82" y="428.26" width="7.5" height="7.2" fill="#1a88f0"/>
<rect x="428.87" y="428.26" width="7.5" height="7.2" fill="#b8060b"/>
<rect x="474.11" y="428.26" width="7.5" height="7.2" fill="#46068c"/>
<rect x="483.15" y="428.26" width="7.5" height="7.2" fill="#46068c"/>
<rect x="492.2" y="428.26" width="7.5" height="7.2" fill="#46068c"/>
<rect x="509.95" y="428.26" width="7.5" height="7.2" fill="#46068c"/>
<rect x="338.4" y="436.74" width="7.5" height="7.2" fill="#1a88f0"/>
<rect x="347.45" y="436.74" width="7.5" height="7.2" fill="#1a88f0"/>
<rect x="419.82" y="436.74" width="7.5" height="7.2" fill="#1a88f0"/>
<rect x="474.11" y="436.74" width="7.5" height="7.2" fill="url(#hP)"/>
<rect x="483.15" y="436.74" width="7.5" height="7.2" fill="#46068c"/>
<rect x="492.2" y="436.74" width="7.5" height="7.2" fill="#46068c"/>
<rect x="509.95" y="436.74" width="7.5" height="7.2" fill="#46068c"/>
<rect x="474.11" y="479.17" width="7.5" height="7.2" fill="#46068c"/>
<rect x="483.15" y="479.17" width="7.5" height="7.2" fill="#46068c"/>
<rect x="492.2" y="479.17" width="7.5" height="7.2" fill="#46068c"/>
<rect x="509.95" y="479.17" width="7.5" height="7.2" fill="#46068c"/>
<rect x="492.2" y="487.65" width="7.5" height="7.2" fill="url(#hP)"/>
<rect x="410.78" y="496.14" width="7.5" height="7.2" fill="#b8060b"/>
<rect x="474.11" y="496.14" width="7.5" height="7.2" fill="#46068c"/>
<rect x="483.15" y="496.14" width="7.5" height="7.2" fill="#46068c"/>
<rect x="492.2" y="496.14" width="7.5" height="7.2" fill="#46068c"/>
<rect x="509.95" y="496.14" width="7.5" height="7.2" fill="#46068c"/>
<rect x="401.73" y="504.62" width="7.5" height="7.2" fill="#b8060b"/>
<rect x="483.15" y="504.62" width="7.5" height="7.2" fill="#46068c"/>
<rect x="492.2" y="504.62" width="7.5" height="7.2" fill="#46068c"/>
<rect x="509.95" y="504.62" width="7.5" height="7.2" fill="#46068c"/>
<rect x="401.73" y="513.11" width="7.5" height="7.2" fill="#b8060b"/>
<rect x="474.11" y="513.11" width="7.5" height="7.2" fill="url(#hP)"/>
<rect x="483.15" y="513.11" width="7.5" height="7.2" fill="#46068c"/>
<rect x="509.95" y="513.11" width="7.5" height="7.2" fill="#46068c"/>
<rect x="401.73" y="521.59" width="7.5" height="7.2" fill="#b8060b"/>
<rect x="509.95" y="521.59" width="7.5" height="7.2" fill="url(#hP)"/>
<rect x="401.73" y="530.08" width="7.5" height="7.2" fill="#b8060b"/>
<rect x="509.95" y="530.08" width="7.5" height="7.2" fill="url(#hP)"/>
<rect x="401.73" y="538.56" width="7.5" height="7.2" fill="#b8060b"/>
<rect x="483.15" y="538.56" width="7.5" height="7.2" fill="#46068c"/>
<rect x="492.2" y="538.56" width="7.5" height="7.2" fill="#46068c"/>
<text class="gl" transform="translate(341.02,6.5) rotate(90) scale(1,1.1)">CSN1S1</text>
<text class="gl" transform="translate(340.12,555.8) rotate(90) scale(1,1.1)">CSN1S1</text>
<text class="gl" transform="translate(349.99,6.5) rotate(90) scale(1,1.1)">CSN2</text>
<text class="gl" transform="translate(349.18,555.8) rotate(90) scale(1,1.1)">CSN2</text>
<text class="gl" transform="translate(358.96,6.5) rotate(90) scale(1,1.1)">STATH</text>
<text class="gl" transform="translate(358.25,555.8) rotate(90) scale(1,1.1)">STATH</text>
<text class="gl" transform="translate(367.93,6.5) rotate(90) scale(1,1.1)">HTN3</text>
<text class="gl" transform="translate(367.31,555.8) rotate(90) scale(1,1.1)">HTN3</text>
<text class="gl" transform="translate(376.9,6.5) rotate(90) scale(1,1.1)">HTN1</text>
<text class="gl" transform="translate(376.38,555.8) rotate(90) scale(1,1.1)">HTN1</text>
<text class="gl" transform="translate(385.87,6.5) rotate(90) scale(1,1.1)">CSN1S2</text>
<text class="gl" transform="translate(385.44,555.8) rotate(90) scale(1,1.1)">CSN1S2</text>
<text class="gl" transform="translate(394.84,6.5) rotate(90) scale(1,1.1)">PRR27</text>
<text class="gl" transform="translate(394.51,555.8) rotate(90) scale(1,1.1)">PRR27</text>
<text class="gl" transform="translate(403.81,6.5) rotate(90) scale(1,1.1)">ODAM</text>
<text class="gl" transform="translate(403.57,555.8) rotate(90) scale(1,1.1)">ODAM</text>
<text class="gl" transform="translate(412.78,6.5) rotate(90) scale(1,1.1)">FDCSP</text>
<text class="gl" transform="translate(412.64,555.8) rotate(90) scale(1,1.1)">FDCSP</text>
<text class="gl" transform="translate(421.75,6.5) rotate(90) scale(1,1.1)">CSN3</text>
<text class="gl" transform="translate(421.7,555.8) rotate(90) scale(1,1.1)">CSN3</text>
<text class="gl" transform="translate(430.72,6.5) rotate(90) scale(1,1.1)">CABS1</text>
<text class="gl" transform="translate(430.77,555.8) rotate(90) scale(1,1.1)">CABS1</text>
<text class="gl" transform="translate(439.69,6.5) rotate(90) scale(1,1.1)">SMR3A</text>
<text class="gl" transform="translate(439.83,555.8) rotate(90) scale(1,1.1)">SMR3A</text>
<text class="gl" transform="translate(448.66,6.5) rotate(90) scale(1,1.1)">SMR3B</text>
<text class="gl" transform="translate(448.9,555.8) rotate(90) scale(1,1.1)">SMR3B</text>
<text class="gl" transform="translate(457.63,6.5) rotate(90) scale(1,1.1)">PROL1</text>
<text class="gl" transform="translate(457.96,555.8) rotate(90) scale(1,1.1)">PROL1</text>
<text class="gl" transform="translate(466.6,6.5) rotate(90) scale(1,1.1)">MUC7</text>
<text class="gl" transform="translate(467.03,555.8) rotate(90) scale(1,1.1)">MUC7</text>
<text class="gl" transform="translate(475.57,6.5) rotate(90) scale(1,1.1)">AMTN</text>
<text class="gl" transform="translate(476.09,555.8) rotate(90) scale(1,1.1)">AMTN</text>
<text class="gl" transform="translate(484.54,6.5) rotate(90) scale(1,1.1)">AMBN</text>
<text class="gl" transform="translate(485.16,555.8) rotate(90) scale(1,1.1)">AMBN</text>
<text class="gl" transform="translate(493.51,6.5) rotate(90) scale(1,1.1)">ENAM</text>
<text class="gl" transform="translate(494.22,555.8) rotate(90) scale(1,1.1)">ENAM</text>
<text class="gl" transform="translate(511.22,7.5) rotate(90) scale(1,1.1)">AMEL</text>
<text class="gl" transform="translate(511.52,556.8) rotate(90) scale(1,1.1)">AMEL</text>
</svg></body></html>
